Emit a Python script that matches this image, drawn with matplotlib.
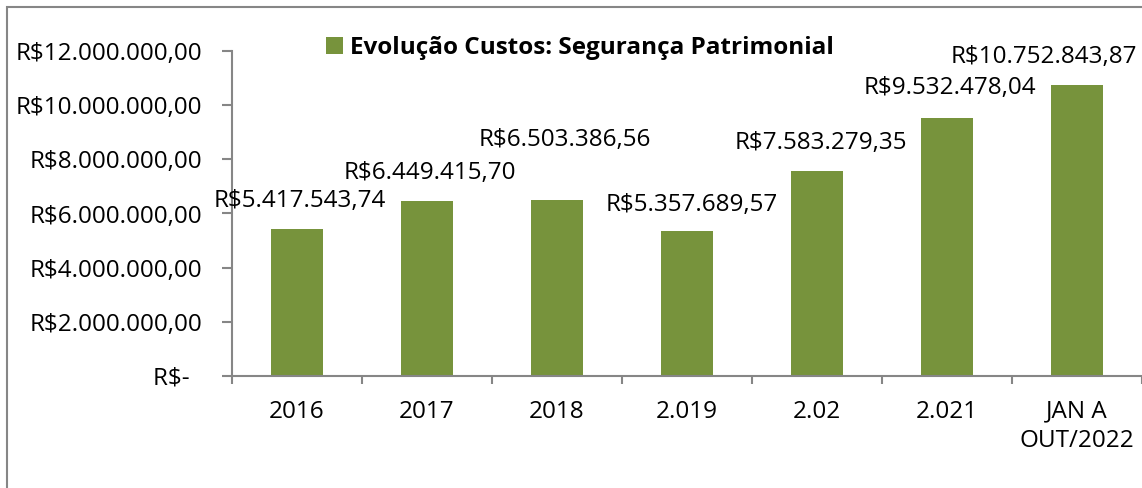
import matplotlib
matplotlib.use('Agg')
import matplotlib.pyplot as plt
from matplotlib.patches import Rectangle, Patch

categories = ['2016', '2017', '2018', '2.019', '2.02', '2.021', 'JAN A\nOUT/2022']
valores = [5417543.74, 6449415.70, 6503386.56, 5357689.57, 7583279.35, 9532478.04, 10752843.87]
rotulos = ['R$5.417.543,74', 'R$6.449.415,70', 'R$6.503.386,56', 'R$5.357.689,57',
           'R$7.583.279,35', 'R$9.532.478,04', 'R$10.752.843,87']
yticks = [0, 2e6, 4e6, 6e6, 8e6, 10e6, 12e6]
ytick_labels = ['R$-  ', 'R$2.000.000,00', 'R$4.000.000,00', 'R$6.000.000,00',
                'R$8.000.000,00', 'R$10.000.000,00', 'R$12.000.000,00']
serie = 'Evolução Custos: Segurança Patrimonial'

# deslocamento dos rotulos (pixels) - posicionados a mao no excel
label_dx = [3, 3, 8, 5, 4, 3, -33]
label_dy = [28, 28, 60, 26, 28, 30, 28]

plt.rcParams['font.family'] = ['Open Sans', 'DejaVu Sans']
verde = '#77933C'
cinza = '#868686'
fs = 17.5

fig = plt.figure(figsize=(11.42, 4.88), dpi=100)
fig.patches.append(Rectangle((7 / 1142, -0.1), 1.2, (481 / 488) + 0.1, transform=fig.transFigure,
                             fill=False, edgecolor=cinza, linewidth=1.5))
ax = fig.add_axes([231.7 / 1142, 112 / 488, 910 / 1142, 325 / 488])

x = range(len(categories))
ax.bar(x, valores, width=0.4, color=verde, zorder=2)

for i, v in enumerate(valores):
    ax.annotate(rotulos[i], (i, v), xytext=(label_dx[i], label_dy[i]), textcoords='offset pixels',
                ha='center', va='center', fontsize=fs, color='black')

ax.set_xlim(-0.5, len(categories) - 0.5)
ax.set_ylim(0, 12e6)
ax.set_yticks(yticks)
ax.set_yticklabels(ytick_labels, fontsize=fs)
ax.set_xticks(list(x))
ax.set_xticklabels(categories, fontsize=fs, linespacing=1.3)
ax.set_xticks([i - 0.5 for i in range(len(categories) + 1)], minor=True)
ax.tick_params(axis='x', which='major', length=0, pad=17)
ax.tick_params(axis='x', which='minor', length=6, width=1.5, color=cinza, direction='out')
ax.tick_params(axis='y', length=7, width=1.5, color=cinza, pad=14)

for s in ['top', 'right']:
    ax.spines[s].set_visible(False)
for s in ['left', 'bottom']:
    ax.spines[s].set_color(cinza)
    ax.spines[s].set_linewidth(1.5)

leg = fig.legend(handles=[Patch(facecolor=verde, label=serie)], loc='center left',
                 bbox_to_anchor=(316 / 1142, 1 - 48 / 488), frameon=False,
                 prop={'size': fs, 'weight': 'bold'}, handlelength=0.7, handleheight=0.7,
                 handletextpad=0.3, borderaxespad=0)

fig.savefig('out.png', dpi=100)
